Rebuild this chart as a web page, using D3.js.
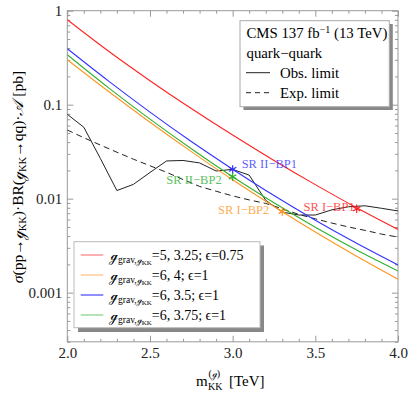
<!DOCTYPE html>
<html>
<head>
<meta charset="utf-8">
<script src="https://cdn.jsdelivr.net/npm/d3@7"></script>
<style>
  body { margin: 0; background: #fff; }
  text { font-family: "Liberation Serif", "DejaVu Serif", serif; }
  .sg { font-family: "DejaVu Serif", serif; }
</style>
</head>
<body>
<script>
// theory curves, read every 0.25 TeV
var theoryMass = [2.0, 2.25, 2.5, 2.75, 3.0, 3.25, 3.5, 3.75, 4.0];
var redXs    = [0.80, 0.370, 0.180, 0.0910, 0.0475, 0.0255, 0.0141, 0.0080, 0.0047];
var orangeXs = [0.301, 0.138, 0.0651, 0.0317, 0.0159, 0.00826, 0.00442, 0.00244, 0.00139];
var blueXs   = [0.394, 0.178, 0.0834, 0.0406, 0.0206, 0.0108, 0.0059, 0.00335, 0.00197];
var greenXs  = [0.340, 0.151, 0.0702, 0.0340, 0.0171, 0.00903, 0.00496, 0.00284, 0.0017];

// CMS limits, every 0.1 TeV
var limitMass = [2.0, 2.1, 2.2, 2.3, 2.4, 2.5, 2.6, 2.7, 2.8, 2.9, 3.0,
                 3.1, 3.2, 3.3, 3.4, 3.5, 3.6, 3.7, 3.8, 3.9, 4.0];
var obsLimit = [0.079, 0.0575, 0.0268, 0.0122, 0.0142, 0.019, 0.0252, 0.0255, 0.024, 0.0197, 0.0205,
                0.0178, 0.0096, 0.0072, 0.0067, 0.0067, 0.0076, 0.0082, 0.0084, 0.0079, 0.0074];
var expLimit = [0.0538, 0.0445, 0.0372, 0.0312, 0.0263, 0.0224, 0.0191, 0.0160, 0.0135, 0.0120, 0.0107,
                0.0097, 0.0089, 0.0078, 0.0068, 0.0061, 0.0055, 0.0050, 0.0046, 0.0042, 0.0039];

// benchmark points
var bpNames = ["SR I\u2212BP1", "SR I\u2212BP2", "SR II\u2212BP1", "SR II\u2212BP2"];
var bpMass  = [3.75, 3.3, 3.0, 3.0];
var bpXs    = [0.0078, 0.0073, 0.0205, 0.0171];

var legendCouplings = ["=5, 3.25; \u03f5=0.75", "=6, 4; \u03f5=1", "=6, 3.5; \u03f5=1", "=6, 3.75; \u03f5=1"];

var xMajor = [2.0, 2.5, 3.0, 3.5, 4.0];
var yMajor = [0.001, 0.01, 0.1, 1];
var yTickLabels = ["0.001", "0.01", "0.1", "1"];

var colors = ["#f22", "#ff9520", "#33f", "#2eb02e"];

var width = 409, height = 396;

var svg = d3.select("body").append("svg")
  .attr("width", width)
  .attr("height", height);

var x = d3.scaleLinear().domain([2, 4]).range([67.3, 398]);
var y = d3.scaleLog().domain([0.0003, 1]).range([341.8, 10.7]);

var xMinor = d3.range(20, 41).map(function (d) { return d / 10; })
  .filter(function (d) { return xMajor.indexOf(d) < 0; });
var yMinor = [];
[0.0001, 0.001, 0.01, 0.1].forEach(function (dec) {
  for (var k = 2; k <= 9; k++) {
    var v = +(k * dec).toPrecision(3);
    if (v >= 0.0003 && v < 1) yMinor.push(v);
  }
});

// frame + ticks (all four sides, pointing inward)
function drawAxis(axis, tx, ty) {
  var g = svg.append("g")
    .attr("transform", "translate(" + tx + "," + ty + ")")
    .call(axis);
  g.select(".domain").remove();
  g.selectAll("line").attr("stroke", "#999");
  g.selectAll("text").style("font-size", "15px").attr("fill", "#222")
    .style("font-family", "'Liberation Serif', serif");
  return g;
}
var yLabelOf = function (d) { return yTickLabels[yMajor.indexOf(d)]; };

drawAxis(d3.axisBottom(x).tickValues(xMajor).tickSize(-6).tickPadding(6)
  .tickFormat(d3.format(".1f")), 0, 341.8);
drawAxis(d3.axisBottom(x).tickValues(xMinor).tickSize(-3).tickFormat(""), 0, 341.8);
drawAxis(d3.axisTop(x).tickValues(xMajor).tickSize(-6).tickFormat(""), 0, 10.7);
drawAxis(d3.axisTop(x).tickValues(xMinor).tickSize(-3).tickFormat(""), 0, 10.7);
drawAxis(d3.axisLeft(y).tickValues(yMajor).tickSize(-6).tickPadding(5)
  .tickFormat(yLabelOf), 67.3, 0);
drawAxis(d3.axisLeft(y).tickValues(yMinor).tickSize(-3).tickFormat(""), 67.3, 0);
drawAxis(d3.axisRight(y).tickValues(yMajor).tickSize(-6).tickFormat(""), 398, 0);
drawAxis(d3.axisRight(y).tickValues(yMinor).tickSize(-3).tickFormat(""), 398, 0);

svg.append("rect")
  .attr("x", 67.3).attr("y", 10.7)
  .attr("width", 398 - 67.3).attr("height", 341.8 - 10.7)
  .attr("fill", "none").attr("stroke", "#999").attr("stroke-width", 1);

var plot = svg.append("g");
plot.append("clipPath").attr("id", "clip")
  .append("rect").attr("x", 67.3).attr("y", 10.7)
  .attr("width", 398 - 67.3).attr("height", 341.8 - 10.7);
var inner = plot.append("g").attr("clip-path", "url(#clip)");

var line = d3.line()
  .x(function (d) { return x(d[0]); })
  .y(function (d) { return y(d[1]); });

// observed / expected limits
inner.append("path")
  .attr("d", line(d3.zip(limitMass, expLimit)))
  .attr("fill", "none").attr("stroke", "#222").attr("stroke-width", 1)
  .attr("stroke-dasharray", "6,4");
inner.append("path")
  .attr("d", line(d3.zip(limitMass, obsLimit)))
  .attr("fill", "none").attr("stroke", "#222").attr("stroke-width", 1);

// theory curves
var smooth = d3.line().curve(d3.curveMonotoneX)
  .x(function (d) { return x(d[0]); })
  .y(function (d) { return y(d[1]); });
[redXs, orangeXs, blueXs, greenXs].forEach(function (s, i) {
  inner.append("path")
    .attr("d", smooth(d3.zip(theoryMass, s)))
    .attr("fill", "none").attr("stroke", colors[i]).attr("stroke-width", 1.1);
});

// benchmark asterisks and labels
var bpLabelPos = [
  { dx: -2, dy: 2, anchor: "end" },
  { dx: -13, dy: 2, anchor: "end" },
  { dx: 9, dy: -1, anchor: "start" },
  { dx: -11, dy: 7, anchor: "end" }
];
bpNames.forEach(function (name, i) {
  var cx = x(bpMass[i]), cy = y(bpXs[i]);
  var star = svg.append("g").attr("transform", "translate(" + cx + "," + cy + ")")
    .attr("stroke", colors[i]).attr("stroke-width", 1.2);
  [0, 60, 120].forEach(function (a) {
    var r = 4.2, t = a * Math.PI / 180 + Math.PI / 2;
    star.append("line")
      .attr("x1", -r * Math.cos(t)).attr("y1", -r * Math.sin(t))
      .attr("x2", r * Math.cos(t)).attr("y2", r * Math.sin(t));
  });
  svg.append("text")
    .attr("x", cx + bpLabelPos[i].dx).attr("y", cy + bpLabelPos[i].dy)
    .attr("text-anchor", bpLabelPos[i].anchor)
    .attr("fill", colors[i]).attr("fill-opacity", 0.8)
    .style("font-size", "12.5px")
    .text(name);
});

// top-right legend
var lg = svg.append("g");
lg.append("rect").attr("x", 243.5).attr("y", 24).attr("width", 149.3).attr("height", 86)
  .attr("fill", "#888");
lg.append("rect").attr("x", 240).attr("y", 20.7).attr("width", 149.3).attr("height", 86)
  .attr("fill", "#fff").attr("stroke", "#aaa").attr("stroke-width", 1);
var cms = lg.append("text").attr("x", 246.5).attr("y", 38).style("font-size", "14.8px");
cms.append("tspan").text("CMS 137 fb");
cms.append("tspan").attr("dy", -5).style("font-size", "10px").text("\u22121");
cms.append("tspan").attr("dy", 5).text(" (13 TeV)");
lg.append("text").attr("x", 246.5).attr("y", 57.5).style("font-size", "14.8px").text("quark\u2212quark");
lg.append("line").attr("x1", 246).attr("x2", 270).attr("y1", 72.7).attr("y2", 72.7)
  .attr("stroke", "#222");
lg.append("text").attr("x", 280).attr("y", 77.5).style("font-size", "14.8px").text("Obs. limit");
lg.append("line").attr("x1", 246).attr("x2", 270).attr("y1", 92.7).attr("y2", 92.7)
  .attr("stroke", "#222").attr("stroke-dasharray", "5,4");
lg.append("text").attr("x", 280).attr("y", 97.5).style("font-size", "14.8px").text("Exp. limit");

// bottom-left legend
var bl = svg.append("g");
bl.append("rect").attr("x", 78).attr("y", 245.5).attr("width", 186).attr("height", 86.5)
  .attr("fill", "#888");
bl.append("rect").attr("x", 74).attr("y", 241.7).attr("width", 186).attr("height", 86)
  .attr("fill", "#fff").attr("stroke", "#bbb").attr("stroke-width", 1);
legendCouplings.forEach(function (txt, i) {
  var ly = 255 + i * 20;
  bl.append("line").attr("x1", 80.7).attr("x2", 103.3).attr("y1", ly).attr("y2", ly)
    .attr("stroke", colors[i]).attr("stroke-opacity", 0.55)
    .attr("stroke-width", i === 2 ? 2 : 1.3);
  var t = bl.append("text").attr("x", 110).attr("y", ly + 4.5).style("font-size", "14px");
  t.append("tspan").attr("class", "sg").style("font-size", "13px").text("\u210a");
  t.append("tspan").attr("dy", 3).style("font-size", "9.5px").text("grav,");
  t.append("tspan").attr("class", "sg").style("font-size", "8.5px").text("\u210a");
  t.append("tspan").attr("dy", 2).style("font-size", "7px").text("KK");
  t.append("tspan").attr("dy", -5).text(txt);
});

// axis titles
var xt = svg.append("g").style("font-size", "15px");
xt.append("text").attr("x", 196).attr("y", 386).text("m");
xt.append("text").attr("x", 208).attr("y", 390).style("font-size", "10px").text("KK");
var sup = xt.append("text").attr("x", 208.5).attr("y", 377).style("font-size", "10px");
sup.append("tspan").text("(");
sup.append("tspan").attr("class", "sg").style("font-size", "9px").text("\u210a");
sup.append("tspan").text(")");
xt.append("text").attr("x", 229).attr("y", 386).text("[TeV]");

var yt = svg.append("text")
  .attr("transform", "translate(23,177) rotate(-90)")
  .attr("text-anchor", "middle")
  .style("font-size", "15.5px");
yt.append("tspan").style("font-style", "italic").text("\u03c3");
yt.append("tspan").text("(pp\u2192");
yt.append("tspan").attr("class", "sg").style("font-size", "14.5px").text("\u210a");
yt.append("tspan").attr("dy", 3).style("font-size", "10.5px").text("KK");
yt.append("tspan").attr("dy", -3).text(")\u00b7BR(");
yt.append("tspan").attr("class", "sg").style("font-size", "14.5px").text("\u210a");
yt.append("tspan").attr("dy", 3).style("font-size", "10.5px").text("KK");
yt.append("tspan").attr("dy", -3).text("\u2192qq)\u00b7");
yt.append("tspan").style("font-style", "italic").text("\ud835\udc9c");
yt.append("tspan").text(" [pb]");
</script>
</body>
</html>
